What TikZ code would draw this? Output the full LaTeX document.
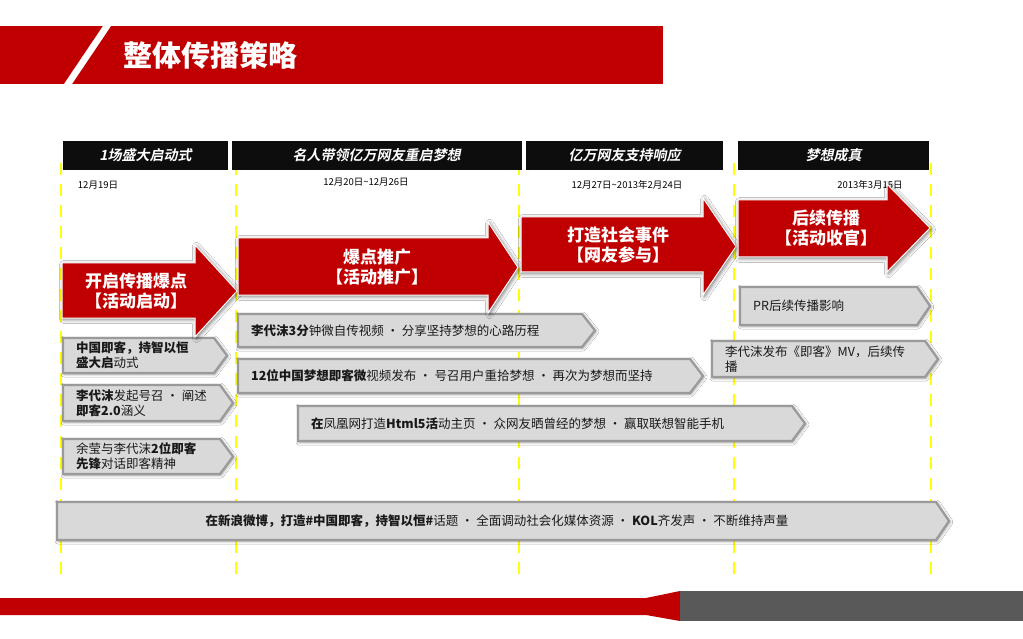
\documentclass[tikz,border=0pt]{standalone}
\usepackage{fontspec}
\setmainfont{Noto Sans CJK SC}
\newfontfamily\hdfont{Noto Sans CJK SC Bold}[FakeSlant=0.2]
\usetikzlibrary{shadows.blur}
\definecolor{brandred}{HTML}{C00000}
\definecolor{boxgray}{HTML}{D9D9D9}
\definecolor{boxedge}{HTML}{9A9A9A}
\definecolor{footgray}{HTML}{595959}
\definecolor{hdblack}{HTML}{0D0D0D}
\definecolor{guideyellow}{HTML}{FFFF00}
\newcommand{\redarr}[7]{\path[redarrow] (#1,#2) -- (#4,#2) -- (#4,#5) -- (#7,{(#5+#6)/2}) -- (#4,#6) -- (#4,#3) -- (#1,#3) -- cycle;}
\newcommand{\gbox}[6]{\path[graybox] (#2,#3) -- ({#5-13},#3) -- (#5,{(#3+#4)/2}) -- ({#5-13},#4) -- (#2,#4) -- cycle;
  \node[gtext, anchor=west] (#1) at ({#2+13},{(#3+#4)/2}) {#6};}
\begin{document}
\begin{tikzpicture}[x=1pt,y=-1pt,
  redarrow/.style={fill=brandred, draw=white, line width=1pt,
    blur shadow={shadow xshift=1.5pt, shadow yshift=-1.5pt, shadow blur radius=4pt, shadow opacity=55}},
  graybox/.style={fill=boxgray, draw=boxedge, line width=2.2pt,
    blur shadow={shadow xshift=1pt, shadow yshift=-1pt, shadow blur radius=3pt, shadow opacity=45}},
  gtext/.style={font=\fontsize{12.5}{15}\selectfont, text=black!90, align=left, inner sep=0pt},
  rtext/.style={font=\fontsize{17}{20}\selectfont\bfseries, text=white, align=center, inner sep=0pt},
  hdbar/.style={fill=hdblack, minimum height=29pt, inner sep=0pt, text=white, font=\hdfont\fontsize{14}{16}\selectfont},
  datetext/.style={font=\fontsize{9.5}{11}\selectfont, text=black, inner sep=0pt},
  guideline/.style={draw=guideyellow, line width=2.5pt, dash pattern=on 12pt off 9pt},
  titletext/.style={font=\fontsize{29}{32}\selectfont\bfseries, text=white, inner sep=0pt}
]
\useasboundingbox (0,0) rectangle (1023,639);
\fill[white] (0,0) rectangle (1023,639);

% title band
\fill[brandred] (0,26) rectangle (663,84);
\fill[white] (103,26) -- (111,26) -- (72,84) -- (64,84) -- cycle;
\node[titletext] (title) at (210,55) {整体传播策略};

% guides
\foreach \gx in {61,236,519,734,931} \draw[guideline] (\gx,163) -- (\gx,580);

% phase headers
\node[hdbar, minimum width=165pt] (h1) at (145.5,155.5) {1场盛大启动式};
\node[hdbar, minimum width=290pt] (h2) at (376.5,155.5) {名人带领亿万网友重启梦想};
\node[hdbar, minimum width=197pt] (h3) at (624.5,155.5) {亿万网友支持响应};
\node[hdbar, minimum width=191pt] (h4) at (833.5,155.5) {梦想成真};

% dates
\node[datetext] (d1) at (98,185) {12月19日};
\node[datetext] (d2) at (366,182) {12月20日\textasciitilde12月26日};
\node[datetext] (d3) at (627,185) {12月27日\textasciitilde2013年2月24日};
\node[datetext] (d4) at (870,185) {2013年3月15日};

% gray boxes
\gbox{ga}{63}{338}{373}{227}{\textbf{中国即客，持智以恒}\\\textbf{盛大启}动式}
\gbox{gb}{63}{385}{421}{233}{\textbf{李代沫}发起号召 · 阐述\\\textbf{即客2.0}涵义}
\gbox{gc}{63}{439}{474}{233}{余莹与李代沫\textbf{2位即客}\\\textbf{先锋}对话即客精神}
\gbox{gd}{238}{314}{347}{595}{\textbf{李代沫3分}钟微自传视频 · 分享坚持梦想的心路历程}
\gbox{ge}{238}{359}{393}{703}{\textbf{12位中国梦想即客微}视频发布 · 号召用户重拾梦想 · 再次为梦想而坚持}
\gbox{gf}{298}{406}{441}{805}{\textbf{在}凤凰网打造\textbf{Html5活}动主页 · 众网友晒曾经的梦想 · 赢取联想智能手机}
\gbox{gg}{740}{287}{325}{930}{PR后续传播影响}
\gbox{gh}{712}{341}{377}{938}{李代沫发布《即客》MV，后续传\\播}
\path[graybox] (57,502) -- (936,502) -- (949,521) -- (936,540) -- (57,540) -- cycle;
\node[gtext, align=center] (gw) at (497,521) {\textbf{在新浪微博，打造\#中国即客，持智以恒\#}话题 · 全面调动社会化媒体资源 · \textbf{KOL}齐发声 · 不断维持声量};

% red arrows
\redarr{62}{263}{318}{195}{245}{337}{237}
\node[rtext] (r1) at (136,291) {开启传播爆点\\【活动启动】};
\redarr{238}{238}{295}{488}{222}{313}{518}
\node[rtext] (r2) at (377,267) {爆点推广\\【活动推广】};
\redarr{521}{217}{272}{703}{198}{295}{736}
\node[rtext] (r3) at (618,245) {打造社会事件\\【网友参与】};
\redarr{738}{200}{257}{887}{184}{272}{930}
\node[rtext] (r4) at (826,228) {后续传播\\【活动收官】};

% footer
\fill[brandred] (0,598) -- (646,598) -- (680,591) -- (680,621) -- (646,615) -- (0,615) -- cycle;
\fill[footgray] (680,591) rectangle (1023,621);
\end{tikzpicture}
\end{document}
